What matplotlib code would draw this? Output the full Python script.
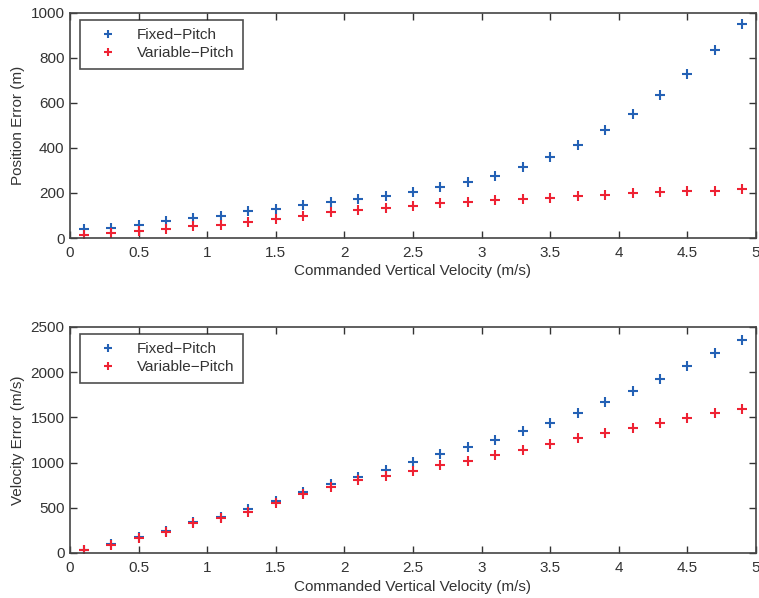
import matplotlib
matplotlib.use("Agg")
import matplotlib.pyplot as plt

plt.rcParams['font.family'] = ['Liberation Sans', 'DejaVu Sans']

velocity = [0.1, 0.3, 0.5, 0.7, 0.9, 1.1, 1.3, 1.5, 1.7, 1.9, 2.1, 2.3, 2.5,
            2.7, 2.9, 3.1, 3.3, 3.5, 3.7, 3.9, 4.1, 4.3, 4.5, 4.7, 4.9]

pos_fixed = [40, 44, 58, 77, 89, 100, 118, 130, 148, 161, 174, 185, 204,
             225, 247, 276, 316, 360, 414, 480, 552, 637, 731, 836, 950]
pos_variable = [12, 22, 30, 40, 52, 59, 71, 86, 100, 114, 126, 134, 143,
                155, 161, 167, 173, 179, 185, 191, 198, 204, 208, 211, 216]

vel_fixed = [37, 99, 173, 246, 338, 397, 489, 570, 673, 761, 846, 919, 1007,
             1096, 1169, 1254, 1346, 1441, 1551, 1669, 1790, 1923, 2070, 2213, 2360]
vel_variable = [37, 92, 165, 232, 327, 382, 449, 555, 651, 735, 809, 853, 912,
                971, 1022, 1081, 1140, 1210, 1268, 1324, 1386, 1441, 1493, 1544, 1592]

xticks = [0, 0.5, 1, 1.5, 2, 2.5, 3, 3.5, 4, 4.5, 5]
xticklabels = ['0', '0.5', '1', '1.5', '2', '2.5', '3', '3.5', '4', '4.5', '5']
pos_yticks = [0, 200, 400, 600, 800, 1000]
vel_yticks = [0, 500, 1000, 1500, 2000, 2500]

blue = '#2461b5'
red = '#ee2233'
spine = '#444444'
textc = '#333333'

W, H = 759, 598
fig = plt.figure(figsize=(W / 100, H / 100), dpi=100)

ax1 = fig.add_axes([70 / W, 1 - 238 / H, (756 - 70) / W, (238 - 13) / H])
ax2 = fig.add_axes([70 / W, 1 - 553 / H, (756 - 70) / W, (553 - 327) / H])

panels = [
    (ax1, pos_fixed, pos_variable, pos_yticks, (0, 1000), 'Position Error (m)'),
    (ax2, vel_fixed, vel_variable, vel_yticks, (0, 2500), 'Velocity Error (m/s)'),
]

for ax, fixed, variable, yt, ylim, ylabel in panels:
    ax.plot(velocity, fixed, linestyle='none', marker='+', markersize=7.5,
            markeredgewidth=1.5, color=blue, label='Fixed\u2212Pitch')
    ax.plot(velocity, variable, linestyle='none', marker='+', markersize=7.5,
            markeredgewidth=1.5, color=red, label='Variable\u2212Pitch')
    ax.set_xlim(0, 5)
    ax.set_ylim(*ylim)
    ax.set_xticks(xticks)
    ax.set_xticklabels(xticklabels)
    ax.set_yticks(yt)
    ax.tick_params(direction='in', length=5, width=1, colors=textc,
                   labelsize=11, top=True, right=True)
    ax.tick_params(axis='x', pad=6)
    ax.tick_params(axis='y', pad=4)
    for s in ax.spines.values():
        s.set_color(spine)
        s.set_linewidth(1.2)
    ax.set_xlabel('Commanded Vertical Velocity (m/s)', fontsize=11,
                  color=textc, labelpad=3)
    ax.set_ylabel(ylabel, fontsize=11, color=textc, labelpad=4)
    leg = ax.legend(loc='upper left', bbox_to_anchor=(0.0146, 0.969),
                    fontsize=11, frameon=True, fancybox=False,
                    edgecolor='#222222', borderpad=0.55, labelspacing=0.25,
                    handletextpad=0.63, borderaxespad=0.0, handlelength=2.56,
                    markerscale=0.85)
    leg.get_frame().set_linewidth(1.2)
    for t in leg.get_texts():
        t.set_color(textc)

fig.savefig('out.png', dpi=100)
